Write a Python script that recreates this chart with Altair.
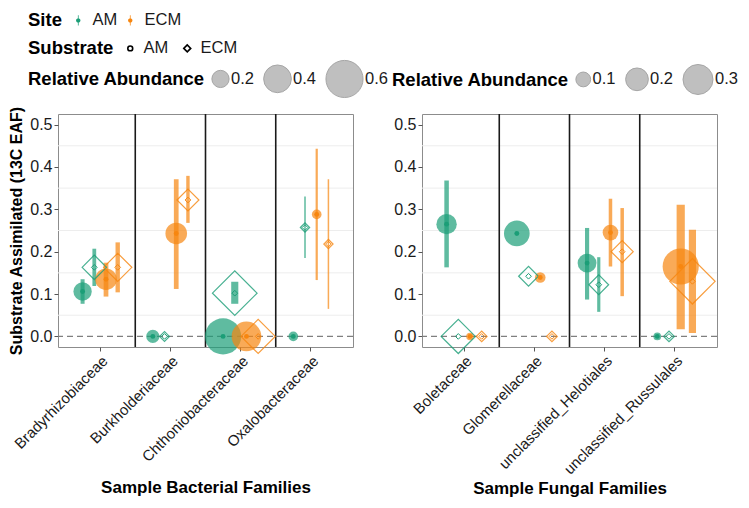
import altair as alt
import pandas as pd

# ---------------- data ----------------
bact_families = ["Bradyrhizobiaceae", "Burkholderiaceae", "Chthoniobacteraceae", "Oxalobacteraceae"]
fung_families = ["Boletaceae", "Glomerellaceae", "unclassified_Helotiales", "unclassified_Russulales"]

site_levels = ["AM", "ECM"]
substrate_levels = ["AM", "ECM"]
# order of the four dodged points inside each family
combo_site = ["AM", "AM", "ECM", "ECM"]
combo_substrate = ["AM", "ECM", "AM", "ECM"]
group_order = ["AM|AM", "AM|ECM", "ECM|AM", "ECM|ECM"]

bact_mean = [0.106, 0.163, 0.135, 0.163,
             0.000, 0.000, 0.243, 0.322,
             0.000, 0.102, 0.000, 0.000,
             0.000, 0.257, 0.288, 0.218]
bact_lo = [0.077, 0.119, 0.094, 0.104,
           0.000, 0.000, 0.112, 0.268,
           0.000, 0.077, 0.000, 0.000,
           0.000, 0.185, 0.133, 0.065]
bact_hi = [0.135, 0.207, 0.174, 0.222,
           0.000, 0.000, 0.371, 0.379,
           0.000, 0.129, 0.000, 0.000,
           0.000, 0.330, 0.443, 0.371]
bact_abund = [0.22, 0.20, 0.28, 0.25,
              0.13, 0.02, 0.28, 0.17,
              0.58, 0.48, 0.44, 0.33,
              0.07, 0.01, 0.07, 0.01]

fung_mean = [0.265, 0.000, 0.000, 0.000,
             0.243, 0.142, 0.139, 0.000,
             0.173, 0.122, 0.245, 0.200,
             0.000, 0.000, 0.165, 0.130]
fung_lo = [0.163, 0.000, 0.000, 0.000,
           0.243, 0.142, 0.139, 0.000,
           0.087, 0.058, 0.165, 0.095,
           0.000, 0.000, 0.017, 0.008]
fung_hi = [0.368, 0.000, 0.000, 0.000,
           0.243, 0.142, 0.139, 0.000,
           0.256, 0.187, 0.325, 0.303,
           0.000, 0.000, 0.311, 0.252]
fung_abund = [0.17, 0.22, 0.003, 0.003,
              0.24, 0.09, 0.05, 0.003,
              0.15, 0.09, 0.11, 0.11,
              0.007, 0.003, 0.39, 0.33]

y_ticks = [0.0, 0.1, 0.2, 0.3, 0.4, 0.5]
grid_values = [0.05, 0.15, 0.25, 0.35, 0.45]
bact_size_breaks = [0.2, 0.4, 0.6]
fung_size_breaks = [0.1, 0.2, 0.3]


def table(families, mean, lo, hi, abund):
    rows = []
    for i, fam in enumerate(families):
        for j in range(4):
            k = i * 4 + j
            rows.append(dict(family=fam, site=combo_site[j], substrate=combo_substrate[j],
                             group=group_order[j], value=mean[k], lo=lo[k], hi=hi[k],
                             abundance=abund[k]))
    return pd.DataFrame(rows)


# ---------------- styling ----------------
TEAL = "#1B9E77"
ORANGE = "#F7860F"
DIAMOND = "M-1.414,0L0,-1.414L1.414,0L0,1.414Z"
SITE_GLYPH = ("M-0.07,-1L0.07,-1L0.07,1L-0.07,1Z"
              "M-0.42,0A0.42,0.42,0,1,1,0.42,0A0.42,0.42,0,1,1,-0.42,0Z")
FONT = "Liberation Sans"

y_scale = alt.Scale(domain=[-0.025, 0.525], nice=False, zero=False)


def fixed_site_scale():
    # explicit domain (used by the legend-less fill/stroke channels)
    return alt.Scale(domain=site_levels, range=[TEAL, ORANGE])


def panel(df, families, x_title, x_title_pad, y_title, size_dom, size_rng, sw_rng,
          size_breaks, size_leg_y, top_legends):
    x_scale = alt.Scale(domain=families, paddingInner=0, paddingOuter=0.1)
    x_axis = alt.Axis(labelAngle=-45, labelFontSize=15, labelColor="#1a1a1a", tickSize=4,
                      tickColor="#555555", domain=False, grid=False, labelPadding=2,
                      titleFontSize=17, titleFontWeight="bold", titleColor="black",
                      titlePadding=x_title_pad)
    y_axis = alt.Axis(values=y_ticks, format=".1f", grid=False, domain=False, tickSize=4,
                      tickColor="#555555", labelFontSize=16, labelColor="#1a1a1a", labelPadding=2,
                      titleFontSize=16, titleFontWeight="bold", titleColor="black", titlePadding=5)
    X = alt.X("family:N", scale=x_scale, axis=x_axis, title=x_title)
    XO = alt.XOffset("group:N", scale=alt.Scale(domain=group_order, paddingInner=0, paddingOuter=1))
    Y = alt.Y("value:Q", scale=y_scale, axis=y_axis, title=y_title)

    size_legend = alt.Legend(title="Relative Abundance", orient="none", legendX=-30,
                             legendY=size_leg_y, direction="horizontal", titleOrient="left",
                             titleAnchor="middle", titleLimit=400, values=size_breaks,
                             symbolType="circle", symbolFillColor="#bfbfbf",
                             symbolStrokeColor="#a6a6a6", symbolStrokeWidth=1, symbolOpacity=1,
                             labelOffset=1, columnPadding=7, titlePadding=6)
    scale_size = alt.Scale(type="pow", exponent=1.5, domain=size_dom, range=size_rng)
    if top_legends:
        site_legend = alt.Legend(title="Site", orient="none", legendX=-30, legendY=-102,
                                 direction="horizontal", titleOrient="left", titleAnchor="middle",
                                 symbolType=SITE_GLYPH, symbolSize=110, symbolStrokeWidth=0,
                                 symbolOpacity=1, titlePadding=8, labelOffset=6,
                                 columnPadding=4)
        sub_legend = alt.Legend(title="Substrate", orient="none", legendX=-30, legendY=-74,
                                direction="horizontal", titleOrient="left", titleAnchor="middle",
                                symbolSize=24, symbolFillColor="transparent",
                                symbolStrokeColor="black", symbolStrokeWidth=1.6,
                                symbolOpacity=1, titlePadding=8, labelOffset=5,
                                columnPadding=10)
    else:
        site_legend = None
        sub_legend = None
    # no explicit domains here so that the Site and Substrate legends stay separate
    color_scale = alt.Scale(range=[TEAL, ORANGE])
    shape_scale = alt.Scale(range=["circle", DIAMOND])

    base = alt.Chart(df)
    grid = alt.Chart(pd.DataFrame({"value": grid_values})).mark_rule(
        color="#ededed", strokeWidth=1).encode(y=Y)
    seps = alt.Chart(pd.DataFrame({"family": families[1:]})).mark_rule(
        color="#1a1a1a", strokeWidth=1.6).encode(
        x=alt.X("family:N", bandPosition=0, scale=x_scale, axis=x_axis, title=x_title))
    zero = alt.Chart(pd.DataFrame({"value": [0.0]})).mark_rule(
        color="#7f7f7f", strokeWidth=1.4, strokeDash=[6, 4]).encode(y=Y)
    bars = base.mark_rule(opacity=0.7, strokeCap="butt").encode(
        x=X, xOffset=XO,
        y=alt.Y("lo:Q", scale=y_scale, axis=y_axis, title=y_title), y2="hi:Q",
        stroke=alt.Stroke("site:N", scale=fixed_site_scale(), legend=None),
        strokeWidth=alt.StrokeWidth("abundance:Q",
                                    scale=alt.Scale(zero=True, nice=False, range=sw_rng),
                                    legend=None))
    # the legends are defined on the filled-circle layer only
    big_c = base.transform_filter("datum.substrate == 'AM'").mark_point(
        filled=True, opacity=0.7, strokeWidth=0).encode(
        x=X, xOffset=XO, y=Y,
        color=alt.Color("site:N", scale=color_scale, legend=site_legend),
        shape=alt.Shape("substrate:N", scale=shape_scale, legend=sub_legend),
        size=alt.Size("abundance:Q", scale=scale_size, legend=size_legend))
    big_d = base.transform_filter("datum.substrate == 'ECM'").mark_point(
        filled=False, opacity=0.8, strokeWidth=1.2).encode(
        x=X, xOffset=XO, y=Y,
        color=alt.Color("site:N", scale=color_scale, legend=None),
        shape=alt.Shape("substrate:N", scale=shape_scale, legend=None),
        size=alt.Size("abundance:Q", scale=scale_size, legend=None))
    small_c = base.transform_filter("datum.substrate == 'AM'").mark_point(
        filled=True, opacity=1, size=24, strokeWidth=0, shape="circle").encode(
        x=X, xOffset=XO, y=Y, fill=alt.Fill("site:N", scale=fixed_site_scale(), legend=None))
    small_d = base.transform_filter("datum.substrate == 'ECM'").mark_point(
        filled=False, opacity=1, size=16, strokeWidth=1, shape=DIAMOND).encode(
        x=X, xOffset=XO, y=Y, stroke=alt.Stroke("site:N", scale=fixed_site_scale(), legend=None))
    return alt.layer(grid, seps, zero, bars, big_c, big_d, small_c, small_d).properties(
        width=295, height=233)


left = panel(table(bact_families, bact_mean, bact_lo, bact_hi, bact_abund), bact_families,
             "Sample Bacterial Families", 15, "Substrate Assimilated (13C EAF)",
             [0, 0.8], [40, 2096], [1.4, 8.3], bact_size_breaks, -55, True)
right = panel(table(fung_families, fung_mean, fung_lo, fung_hi, fung_abund), fung_families,
              "Sample Fungal Families", 4, None,
              [0, 0.4], [56, 1356], [1.67, 8.2], fung_size_breaks, -51, False)

chart = alt.hconcat(left, right, spacing=2).resolve_scale(
    x="independent", size="independent", strokeWidth="independent",
    color="independent", shape="independent", stroke="independent",
    fill="independent").resolve_legend(
    size="independent", color="independent", shape="independent").properties(
    padding={"top": 3, "left": 0, "right": 0, "bottom": 0}).configure(
    font=FONT).configure_view(stroke="#8c8c8c", strokeWidth=1).configure_legend(
    labelFont=FONT, titleFont=FONT, labelFontSize=16.5, titleFontSize=18.5,
    titleFontWeight="bold", titleColor="black", labelColor="#1a1a1a")

chart.save("out.html", embed_options={"renderer": "svg", "actions": False})
